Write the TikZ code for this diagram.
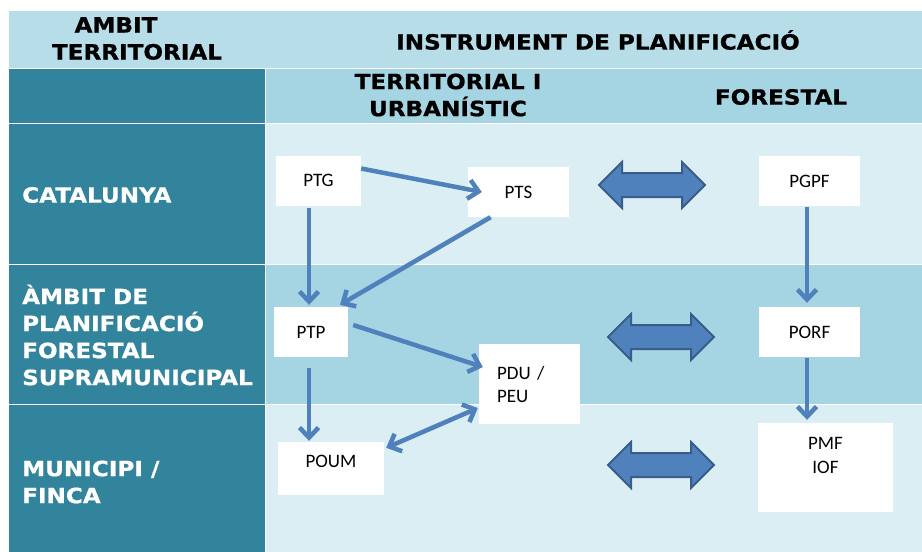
\documentclass[tikz,border=0pt]{standalone}
\usepackage{fontspec}
\usepackage{tikz}
\usetikzlibrary{
    positioning,
    arrows.meta,
    shapes.arrows,
    calc
  }
\newfontfamily\headfont{DejaVu Sans Bold}[FakeStretch=1.1,FakeBold=0.8]
\newfontfamily\boxfont{Carlito}
\definecolor{headlight}{HTML}{B7DDE8}
\definecolor{rowmid}{HTML}{A5D5E2}
\definecolor{rowlight}{HTML}{DAEEF3}
\definecolor{tealcol}{HTML}{31849B}
\definecolor{arrowblue}{HTML}{4F81BD}
\definecolor{arrowedge}{HTML}{385D8A}
\tikzstyle{head}=[inner sep=0pt,align=center,font=\headfont\fontsize{21}{27}\selectfont]
\tikzstyle{side}=[head,align=left,anchor=west,text=white]
\tikzstyle{box}=[fill=white,inner sep=0pt,font=\boxfont\fontsize{19}{23}\selectfont]
\tikzstyle{boxtext}=[inner sep=0pt,align=center,font=\boxfont\fontsize{19}{24}\selectfont]
\tikzstyle{flow}=[draw=arrowblue,line width=4.5pt,
    preaction={draw=black!30,transform canvas={shift={(1.5pt,-1.5pt)}}}]
\tikzstyle{link}=[double arrow,double arrow head extend=11pt,fill=arrowblue,
    draw=arrowedge,line width=2pt,minimum height=106pt,inner xsep=0pt,inner ysep=11pt]

\begin{document}
\begin{tikzpicture}[x=1pt,y=-1pt,>={Straight Barb[length=10pt,width=19pt]}]
  \useasboundingbox (0,0) rectangle (922,552);
  % table
  \fill[headlight] (8.5,11) rectangle (922,67.5);
  \fill[rowmid] (265.5,68.5) rectangle (922,122.5);
  \fill[rowlight] (265.5,123.5) rectangle (922,264);
  \fill[rowmid] (265.5,265) rectangle (922,404);
  \fill[rowlight] (265.5,405) rectangle (922,552);
  \foreach \ya/\yb in {68.5/122.5,123.5/264,265/404,405/552}
    \fill[tealcol] (8.5,\ya) rectangle (264.5,\yb);
%
  \node[head] (ambit) at (137,38.5) {AMBIT\hspace*{42pt}\\TERRITORIAL};
  \node[head] (instr) at (598,40) {INSTRUMENT DE PLANIFICACIÓ};
  \node[head] (terr) at (448,95) {TERRITORIAL I\\URBANÍSTIC};
  \node[head] (fores) at (781,97) {FORESTAL};
  \node[side] (cat) at (22,195) {CATALUNYA};
  \node[side] (supra) at (22,335) {ÀMBIT DE\\PLANIFICACIÓ\\FORESTAL\\SUPRAMUNICIPAL};
  \node[side] (muni) at (22,482) {MUNICIPI /\\FINCA};
%
  \node[box,minimum width=85pt,minimum height=50pt] (ptg) at (318.5,180.5) {PTG};
  \node[box,minimum width=101pt,minimum height=50pt] (pts) at (518.5,192) {PTS};
  \node[box,minimum width=74pt,minimum height=50pt] (ptp) at (311,332) {PTP};
  \node[box,minimum width=101pt,minimum height=80pt,inner xsep=18pt,
    text width=65pt,align=left] (pdu) at (529.5,384) {PDU /\\PEU};
  \node[box,minimum width=106pt,minimum height=53pt] (poum) at (331,468.5) {};
  \node[boxtext,below=13pt of poum.north] (poumtxt) {POUM};
  \node[box,minimum width=101pt,minimum height=50pt] (pgpf) at (809.5,181) {PGPF};
  \node[box,minimum width=101pt,minimum height=50pt] (porf) at (809.5,332) {PORF};
  \node[box,minimum width=135pt,minimum height=89pt] (pmf) at (825.5,467.5) {};
  \node[boxtext,below=14pt of pmf.north] (pmftxt) {PMF\\IOF};
%
  \draw[flow,->] ($(ptg.east)+(0,-12)$) -- ($(pts.west)+(14,0)$);
  \draw[flow,->] ($(ptg.south)+(-9.5,2)$) -- ($(ptp.north)+(-2,-2)$);
  \draw[flow,->] ($(pts.south)+(-28,0)$) -- ($(ptp.north)+(29,-2)$);
  \draw[flow,->] ($(ptp.east)+(5,-7)$) -- ($(pdu.west)+(4,-17)$);
  \draw[flow,->] ($(ptp.south)+(-2,11)$) -- ($(poum.north)+(-22,-1)$);
  \draw[flow,<->] ($(poum.north east)+(2,6)$) -- ($(pdu.west)+(-1,24)$);
  \draw[flow,->] ($(pgpf.south)+(-2.5,1)$) -- ($(porf.north)+(-2.5,-4)$);
  \draw[flow,->] ($(porf.south)+(-2.5,1)$) -- ($(pmf.north)+(-18.5,-3)$);
%
  \node[link] (link1) at (652,185) {};
  \node[link] (link2) at (661,337) {};
  \node[link] (link3) at (661,465) {};
\end{tikzpicture}
\end{document}
